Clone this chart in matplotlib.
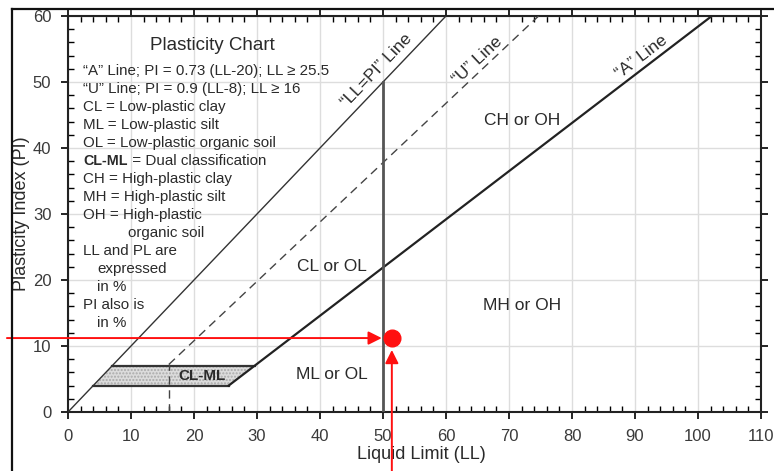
import matplotlib
matplotlib.use("Agg")
import matplotlib.pyplot as plt
from matplotlib.lines import Line2D
from matplotlib.patches import Polygon

plt.rcParams['font.family'] = ['Liberation Sans', 'DejaVu Sans']

# Chart lines (LL, PI end points)
llpi_ll = [0, 60]
llpi_pi = [0, 60]
u_ll = [16, 74.7]
u_pi = [7.2, 60]
u_foot_ll = [16, 16]
u_foot_pi = [0, 7.2]
a_ll = [25.5, 102.2]
a_pi = [4, 60]
ll50_ll = [50, 50]
ll50_pi = [0, 50]

# CL-ML zone
clml_ll = [4, 25.5, 29.6, 7]
clml_pi = [4, 4, 7, 7]

# Sample point
sample_ll = 51.4
sample_pi = 11.2

legend_lines = [
    "\u201cA\u201d Line; PI = 0.73 (LL-20); LL \u2265 25.5",
    "\u201cU\u201d Line; PI = 0.9 (LL-8); LL \u2265 16",
    "CL = Low-plastic clay",
    "ML = Low-plastic silt",
    "OL = Low-plastic organic soil",
    None,  # CL-ML line (bold part)
    "CH = High-plastic clay",
    "MH = High-plastic silt",
    "OH = High-plastic",
    "organic soil",
    "LL and PL are",
    "expressed",
    "in %",
    "PI also is",
    "in %",
]
legend_indent = [0, 0, 0, 0, 0, 0, 0, 0, 0, 7.1, 0, 2.2, 2.2, 0, 2.2]

zones = ["CL or OL", "ML or OL", "CH or OH", "MH or OH"]
zone_ll = [41.9, 41.9, 72.1, 72.1]
zone_pi = [22.1, 5.7, 44.2, 16.2]

txt = '#2a2a2a'

fig = plt.figure(figsize=(7.74, 4.71), dpi=100)
ax = fig.add_axes([0.0879, 0.1253, 0.8953, 0.8408])
ax.set_xlim(0, 110)
ax.set_ylim(0, 60)
ax.set_xticks(range(0, 111, 10))
ax.set_yticks(range(0, 61, 10))
ax.set_xticks(range(0, 111, 2), minor=True)
ax.set_yticks(range(0, 61, 2), minor=True)
ax.grid(True, which='major', color='#dddddd', lw=1)
ax.set_axisbelow(True)
ax.tick_params(which='major', direction='out', length=5, width=1.2,
               top=True, right=True, labelsize=12, labelcolor='#3a3a3a', pad=7)
ax.tick_params(which='minor', direction='in', length=4, width=1,
               top=True, right=True)
for s in ax.spines.values():
    s.set_linewidth(1.5)
    s.set_color('#222222')

ax.set_xlabel("Liquid Limit (LL)", fontsize=13, color=txt, labelpad=4)
ax.set_ylabel("Plasticity Index (PI)", fontsize=13, color=txt, labelpad=2)
ax.xaxis.set_label_coords(0.51, -0.085)

# CL-ML zone
ax.add_patch(Polygon(list(zip(clml_ll, clml_pi)), closed=True, facecolor='#dcdcdc',
                     edgecolor='#aaaaaa', hatch='.....', lw=0, zorder=2))
ax.plot([clml_ll[0], clml_ll[1]], [clml_pi[0], clml_pi[1]], color='#333333', lw=1.6, zorder=3)
ax.plot([clml_ll[3], clml_ll[2]], [clml_pi[3], clml_pi[2]], color='#333333', lw=1.6, zorder=3)
ax.text(21.2, 5.4, "CL-ML", fontsize=11, fontweight='bold', color=txt,
        ha='center', va='center', zorder=4)

# Lines
ax.plot(llpi_ll, llpi_pi, color='#333333', lw=1, zorder=3)
ax.plot(u_ll, u_pi, color='#444444', lw=1, dashes=(6, 4), zorder=3)
ax.plot(u_foot_ll, u_foot_pi, color='#444444', lw=1, dashes=(6, 4), zorder=3)
ax.plot(a_ll, a_pi, color='#222222', lw=1.6, zorder=3)
ax.plot(ll50_ll, ll50_pi, color='#555555', lw=2, zorder=3)

ax.text(49.0, 51.8, "\u201cLL=PI\u201d Line", fontsize=12.5, color=txt, rotation=46.3,
        ha='center', va='center', rotation_mode='anchor')
ax.text(65.0, 53.3, "\u201cU\u201d Line", fontsize=12.5, color=txt, rotation=43.3,
        ha='center', va='center', rotation_mode='anchor')
ax.text(91.1, 53.8, "\u201cA\u201d Line", fontsize=12.5, color=txt, rotation=37.4,
        ha='center', va='center', rotation_mode='anchor')

for name, x, y in zip(zones, zone_ll, zone_pi):
    ax.text(x, y, name, fontsize=12.5, color=txt, ha='center', va='center')

# Legend block
ax.text(22.9, 55.6, "Plasticity Chart", fontsize=13.5, color=txt, ha='center', va='center')
y0 = 51.7
step = 2.73
for i, (line, ind) in enumerate(zip(legend_lines, legend_indent)):
    y = y0 - i * step
    if line is None:
        t = ax.text(2.4, y, "CL-ML", fontsize=10.3, fontweight='bold', color=txt, va='center')
        ax.annotate(" = Dual classification", xy=(1, 0.5), xycoords=t, fontsize=10.9,
                    color=txt, va='center')
    else:
        ax.text(2.4 + ind, y, line, fontsize=10.9, color=txt, va='center')

# Sample point and arrows
red = '#ff1010'
ax.annotate("", xy=(sample_ll - 1.6, sample_pi), xytext=(-9.7, sample_pi),
            arrowprops=dict(arrowstyle='-|>', color=red, lw=1.4, mutation_scale=20,
                            shrinkA=0, shrinkB=0), annotation_clip=False, zorder=5)
ax.annotate("", xy=(sample_ll, sample_pi - 1.8), xytext=(sample_ll, -9.0),
            arrowprops=dict(arrowstyle='-|>', color=red, lw=1.4, mutation_scale=20,
                            shrinkA=0, shrinkB=0), annotation_clip=False, zorder=5)
ax.plot([sample_ll], [sample_pi], 'o', color=red, markersize=12, zorder=6, clip_on=False)

# Outer frame (left and top edges)
fig.add_artist(Line2D([12 / 774, 12 / 774], [0, 1 - 9 / 471], transform=fig.transFigure,
                      color='#111111', lw=1.6))
fig.add_artist(Line2D([12 / 774, 1], [1 - 9 / 471, 1 - 9 / 471], transform=fig.transFigure,
                      color='#111111', lw=1.6))

fig.savefig("out.png", dpi=100)
